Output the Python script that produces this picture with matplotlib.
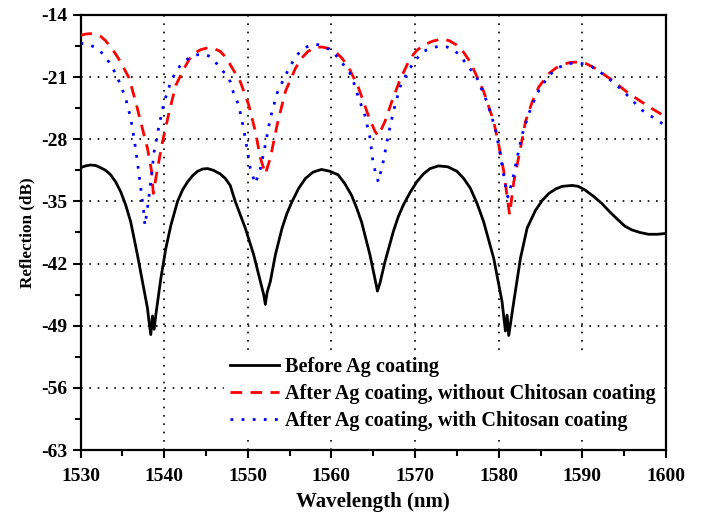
import matplotlib
matplotlib.use("Agg")
import matplotlib.pyplot as plt
from matplotlib.ticker import MultipleLocator

plt.rcParams['font.family'] = ['Liberation Serif', 'DejaVu Serif']
plt.rcParams['font.weight'] = 'bold'
plt.rcParams['axes.unicode_minus'] = False

# Before Ag coating
before_x = [1530.0, 1530.6, 1531.2, 1531.8, 1532.4, 1533.0, 1533.6, 1534.2, 1534.8, 1535.4, 1536.0, 1536.8,
            1537.4, 1538.0, 1538.2, 1538.4, 1538.6, 1538.8,
            1539.0, 1539.6, 1540.2, 1540.8, 1541.6, 1542.2, 1542.8, 1543.4, 1544.0, 1544.6, 1545.2, 1545.9,
            1546.7, 1547.3, 1547.9, 1548.5, 1549.1, 1549.7,
            1550.7, 1551.5, 1551.9, 1552.1, 1552.3, 1552.7, 1553.3, 1554.1, 1554.7, 1555.3, 1556.1, 1556.9,
            1557.8, 1558.8, 1559.8, 1560.8,
            1561.6, 1562.4, 1563.0, 1563.6, 1564.6, 1565.2, 1565.5, 1565.8, 1566.4, 1567.4, 1568.0, 1568.6,
            1569.4, 1570.2, 1571.0, 1571.8, 1572.8, 1573.9, 1575.0,
            1575.8, 1576.6, 1577.4, 1578.2, 1579.4, 1580.4, 1580.8, 1581.0, 1581.2, 1581.8, 1582.6, 1583.4,
            1584.4, 1585.2, 1586.0,
            1586.8, 1587.6, 1588.8, 1589.5, 1590.3, 1591.3, 1592.3, 1593.3, 1594.3, 1595.1, 1595.9, 1596.9,
            1597.9, 1599.0, 1600.0]
before_y = [-31.2, -31.0, -30.9, -30.95, -31.2, -31.5, -32.0, -32.8, -33.9, -35.4, -37.3, -41.0,
            -44.0, -47.0, -48.6, -50.0, -47.9, -49.4,
            -47.8, -43.7, -40.3, -37.7, -35.0, -33.7, -32.8, -32.1, -31.6, -31.35, -31.3, -31.5,
            -31.9, -32.4, -33.2, -35.0, -36.5, -38.0,
            -41.0, -44.0, -45.5, -46.6, -45.3, -44.0, -41.0, -38.0, -36.3, -35.0, -33.5, -32.4,
            -31.7, -31.4, -31.6, -32.0,
            -33.0, -34.3, -35.7, -37.3, -41.0, -43.7, -45.1, -44.2, -41.8, -38.4, -36.7, -35.4,
            -34.0, -32.8, -31.9, -31.3, -31.0, -31.1, -31.6,
            -32.4, -33.5, -35.2, -37.3, -41.4, -46.3, -49.6, -47.8, -50.1, -46.3, -41.4, -38.0,
            -36.0, -34.9, -34.1,
            -33.6, -33.3, -33.2, -33.3, -33.7, -34.4, -35.2, -36.2, -37.1, -37.8, -38.2, -38.5,
            -38.7, -38.7, -38.6]

# After Ag coating, without Chitosan coating
without_x = [1530.0, 1530.6, 1531.2, 1531.8, 1532.4, 1533.0, 1533.6, 1534.2, 1534.8, 1535.8, 1536.6, 1537.4,
             1538.0, 1538.5, 1538.7,
             1539.2, 1539.8, 1540.6, 1541.4, 1542.4, 1543.0, 1543.6, 1544.4, 1545.2, 1546.0, 1546.7, 1547.3,
             1547.9, 1549.1, 1550.1,
             1550.9, 1551.5, 1552.1, 1552.7, 1553.5, 1554.5, 1555.7, 1556.4, 1557.2, 1558.0, 1558.8, 1559.6,
             1560.4, 1561.2, 1562.0,
             1563.2, 1564.4, 1565.2, 1565.6, 1566.4, 1567.2, 1568.2, 1569.4, 1570.2, 1571.0, 1572.1, 1573.2,
             1574.1, 1575.0, 1575.8,
             1576.6, 1578.2, 1579.4, 1580.0, 1580.6, 1581.3, 1581.8, 1582.6, 1583.2, 1584.0, 1584.8,
             1586.0, 1586.8, 1587.6, 1588.5, 1589.5, 1590.5, 1591.5, 1593.5, 1595.5, 1597.9, 1600.0]
without_y = [-16.3, -16.15, -16.1, -16.2, -16.4, -16.9, -17.6, -18.4, -19.3, -21.1, -23.8, -26.8,
             -29.0, -31.6, -34.1,
             -31.3, -28.3, -24.9, -21.9, -20.0, -19.0, -18.3, -17.9, -17.7, -17.8, -18.1, -18.7,
             -19.6, -21.5, -24.1,
             -27.1, -30.1, -31.9, -30.1, -26.4, -22.6, -20.0, -18.9, -18.1, -17.7, -17.6, -17.75,
             -18.1, -18.8, -19.8,
             -22.1, -25.3, -27.1, -27.6, -26.0, -23.8, -21.3, -18.9, -18.0, -17.4, -16.95, -16.7,
             -16.9, -17.4, -18.2,
             -19.3, -22.6, -26.0, -28.6, -31.6, -36.5, -32.8, -29.0, -26.0, -23.8, -22.1,
             -20.6, -20.0, -19.6, -19.35, -19.3, -19.5, -20.0, -21.3, -22.8, -24.3, -25.5]

# After Ag coating, with Chitosan coating
with_x = [1530.0, 1530.6, 1531.2, 1531.8, 1532.4, 1533.4, 1534.2, 1534.8, 1535.4, 1536.0, 1536.4, 1536.8,
          1537.2, 1537.6, 1537.7, 1538.0, 1538.4, 1538.8, 1539.4, 1540.0, 1540.8, 1541.4, 1542.0, 1542.6,
          1543.2, 1543.9, 1544.6, 1545.3, 1545.9, 1546.5, 1547.1, 1547.9, 1548.3, 1548.9, 1549.5, 1549.9,
          1550.3, 1550.9, 1551.5, 1552.1, 1552.7, 1553.5, 1554.5, 1555.7, 1556.3, 1556.8, 1557.4, 1558.0,
          1558.8, 1559.6, 1560.4, 1561.2, 1562.4, 1563.2, 1564.0, 1564.6, 1565.0, 1565.6, 1566.2, 1566.8,
          1567.4, 1568.2, 1569.0, 1569.8, 1570.4, 1571.0, 1572.0, 1573.0, 1573.8, 1574.6, 1575.4, 1576.2,
          1577.4, 1578.6, 1579.6, 1580.2, 1580.8, 1581.1, 1581.6, 1582.2, 1582.8, 1583.6, 1584.6, 1586.0,
          1587.2, 1588.2, 1589.2, 1590.2, 1591.1, 1592.7, 1594.7, 1597.1, 1600.0]
with_y = [-17.2, -17.25, -17.4, -17.7, -18.1, -19.3, -20.6, -21.9, -23.4, -25.6, -27.9, -30.5,
          -33.5, -36.5, -37.7, -35.8, -32.8, -29.4, -26.4, -23.8, -21.5, -20.4, -19.6, -19.1,
          -18.7, -18.5, -18.4, -18.6, -19.1, -19.7, -20.4, -21.5, -22.8, -24.1, -26.8, -29.0,
          -31.3, -33.0, -31.3, -28.6, -25.6, -22.8, -20.8, -18.7, -18.1, -17.7, -17.45, -17.3,
          -17.4, -17.8, -18.4, -19.3, -20.8, -23.2, -25.3, -27.8, -30.8, -32.8, -30.5, -27.5,
          -24.9, -22.1, -20.6, -19.4, -18.7, -18.1, -17.7, -17.5, -17.6, -17.9, -18.6, -19.6,
          -21.1, -23.8, -26.8, -29.8, -33.2, -34.5, -32.8, -30.1, -27.5, -25.1, -22.8, -20.8,
          -19.9, -19.5, -19.4, -19.5, -19.8, -20.8, -22.4, -24.7, -26.5]

labels = ["Before Ag coating",
          "After Ag coating, without Chitosan coating",
          "After Ag coating, with Chitosan coating"]

fig = plt.figure(figsize=(7.02, 5.13), dpi=100)
ax = fig.add_axes([0.1147, 0.1228, 0.834, 0.848])

ax.plot(before_x, before_y, color='black', lw=2.0, label=labels[0], zorder=3)
ax.plot(without_x, without_y, color='red', lw=2.0, ls=(0, (4.2, 3.0)), label=labels[1], zorder=4)
ax.plot(with_x, with_y, color='blue', lw=2.0, ls=(0, (1, 3.0)), label=labels[2], zorder=5)

ax.set_xlim(1530, 1600)
ax.set_ylim(-63, -14)
ax.xaxis.set_major_locator(MultipleLocator(10))
ax.xaxis.set_minor_locator(MultipleLocator(5))
ax.yaxis.set_major_locator(MultipleLocator(7))
ax.yaxis.set_minor_locator(MultipleLocator(3.5))

ax.grid(True, which='major', color='black', ls=(0, (1, 4)), lw=1.2)
ax.tick_params(which='major', direction='out', length=6, width=1.5, labelsize=14)
ax.tick_params(which='minor', direction='out', length=4, width=1.5)
ax.tick_params(axis='x', which='major', pad=7)
for s in ax.spines.values():
    s.set_linewidth(1.6)
for lab in ax.get_xticklabels() + ax.get_yticklabels():
    lab.set_fontweight('bold')

ax.set_xlabel("Wavelength (nm)", fontsize=15, fontweight='bold', labelpad=5)
ax.set_ylabel("Reflection (dB)", fontsize=12.3, fontweight='bold', labelpad=4)

leg = ax.legend(loc='center left', bbox_to_anchor=(0.245, 0.128), frameon=True,
                fontsize=14.6, handlelength=2.4, handletextpad=0.3, labelspacing=0.34,
                borderpad=0.3, borderaxespad=0.0)
leg.get_frame().set_facecolor('white')
leg.get_frame().set_edgecolor('white')
leg.get_frame().set_alpha(1.0)
leg.get_frame().set_boxstyle('square', pad=0)
for t in leg.get_texts():
    t.set_fontweight('bold')

fig.savefig("out.png", dpi=100)
